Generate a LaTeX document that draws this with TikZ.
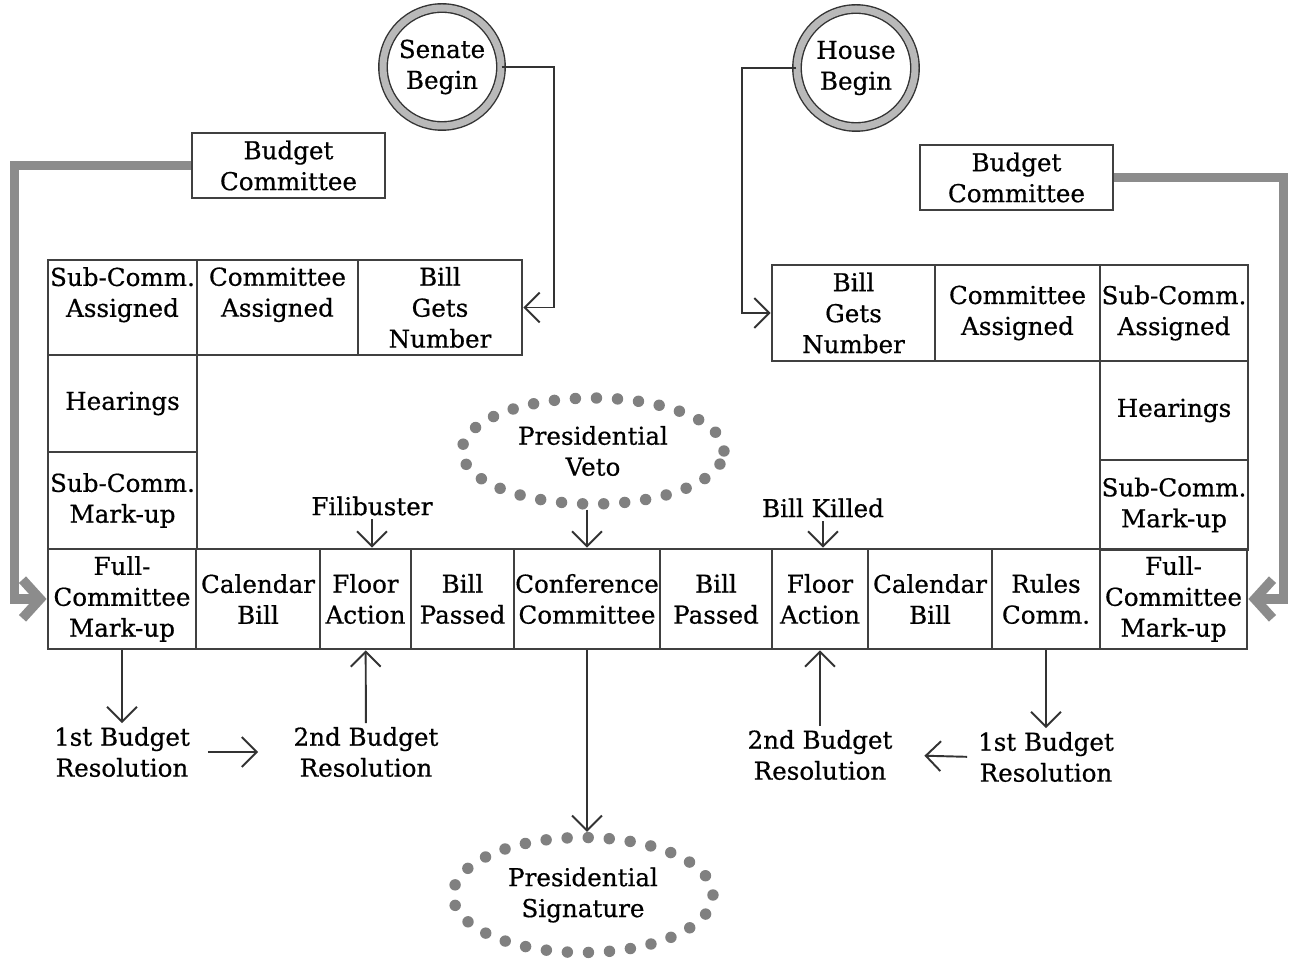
\documentclass[tikz,border=0pt]{standalone}
\usepackage{fontspec}
\setmainfont{DejaVu Serif}[FakeBold=0.6,AutoFakeBold=0.6]
\usetikzlibrary{arrows.meta,shapes.geometric,positioning}

\begin{document}
\begin{tikzpicture}[x=0.02cm,y=-0.02cm,
	font=\fontsize{14}{17.6}\selectfont\bfseries,
	box/.style={draw=black!75,line width=1.6pt,align=center,inner sep=0pt,minimum height=2cm},
	budgetbox/.style={box,minimum width=3.86cm,minimum height=1.3cm},
	startring/.style={circle,draw=black!80,line width=0.8pt,double=gray!55,double distance=4pt,minimum size=2.36cm,align=center,inner sep=0pt},
	dotring/.style={ellipse,draw=black!50,line width=6.5pt,line cap=round,dash pattern=on 0pt off 12pt,align=center,inner sep=0pt},
	lbl/.style={align=center,inner sep=2pt},
	arr/.style={draw=black!80,line width=1.1pt,-{Straight Barb[angle=90:12pt]}},
	budgetline/.style={draw=black!45,line width=5.5pt,-{Straight Barb[length=10pt,width=22pt]}}]
	\useasboundingbox (0,0) rectangle (1289,962);

	\node[startring] (sBegin) at (442,67) {Senate\\Begin};
	\node[startring] (hBegin) at (856,68) {House\\Begin};
	\node[budgetbox] (sBud) at (288.5,165.5) {Budget\\Committee};
	\node[budgetbox] (hBud) at (1016.5,177.5) {Budget\\Committee};

	\node[box,minimum width=2.98cm,minimum height=1.9cm] (sSubA) at (122.5,307.5) {Sub-Comm.\\Assigned\\\mbox{}};
	\node[box,minimum width=3.22cm,minimum height=1.9cm] (sComA) at (277.5,307.5) {Committee\\Assigned\\\mbox{}};
	\node[box,minimum width=3.28cm,minimum height=1.9cm] (sBill) at (440,307.5) {Bill\\Gets\\Number};
	\node[box,minimum width=2.98cm,minimum height=1.94cm] (sHear) at (122.5,403.5) {Hearings};
	\node[box,minimum width=2.98cm,minimum height=1.94cm] (sSubM) at (122.5,500.5) {Sub-Comm.\\Mark-up};

	\node[box,minimum width=3.26cm,minimum height=1.92cm] (hBill) at (853.5,313) {Bill\\Gets\\Number};
	\node[box,minimum width=3.3cm,minimum height=1.92cm] (hComA) at (1017.5,313) {Committee\\Assigned};
	\node[box,minimum width=2.96cm,minimum height=1.92cm] (hSubA) at (1174,313) {Sub-Comm.\\Assigned};
	\node[box,minimum width=2.96cm,minimum height=1.98cm] (hHear) at (1174,410.5) {Hearings};
	\node[box,minimum width=2.96cm,minimum height=1.8cm] (hSubM) at (1174,505) {Sub-Comm.\\Mark-up};

	\node[box,minimum width=2.96cm] (sFull) at (122,599) {Full-\\Committee\\Mark-up};
	\node[box,minimum width=2.48cm] (sCal) at (258,599) {Calendar\\Bill};
	\node[box,minimum width=1.82cm] (sFloor) at (365.5,599) {Floor\\Action};
	\node[box,minimum width=2.06cm] (sPass) at (462.5,599) {Bill\\Passed};
	\node[box,minimum width=2.92cm] (conf) at (587,599) {Conference\\Committee};
	\node[box,minimum width=2.24cm] (hPass) at (716,599) {Bill\\Passed};
	\node[box,minimum width=1.92cm] (hFloor) at (820,599) {Floor\\Action};
	\node[box,minimum width=2.48cm] (hCal) at (930,599) {Calendar\\Bill};
	\node[box,minimum width=2.16cm] (hRules) at (1046,599) {Rules\\Comm.};
	\node[box,minimum width=2.94cm] (hFull) at (1173.5,599) {Full-\\Committee\\Mark-up};

	\node[dotring,minimum width=5.24cm,minimum height=2.12cm] (veto) at (593,451) {Presidential\\Veto};
	\node[dotring,minimum width=5.2cm,minimum height=2.3cm] (sign) at (583,895) {Presidential\\Signature};
	\node[lbl] (fil) at (372,506) {Filibuster};
	\node[lbl] (kill) at (823,508) {Bill Killed};
	\node[lbl] (s1st) at (122,752) {1st Budget\\Resolution};
	\node[lbl] (s2nd) at (366,752) {2nd Budget\\Resolution};
	\node[lbl] (h2nd) at (820,755) {2nd Budget\\Resolution};
	\node[lbl] (h1st) at (1046,757) {1st Budget\\Resolution};

	\draw[arr] (sBegin.east) -- ++(52,0) |- (sBill.east);
	\draw[arr] (hBegin.west) -- ++(-54,0) |- (hBill.west);
	\draw[budgetline] (sBud.west) -- ++(-176,0) |- (sFull.west);
	\draw[budgetline] (hBud.east) -- ++(169,0) |- (hFull.east);

	\draw[arr] (fil.south) -- (fil.south |- sFloor.north);
	\draw[arr] (kill.south) -- (kill.south |- hFloor.north);
	\draw[arr] (conf.north |- veto.south) -- (conf.north);
	\draw[arr] (conf.south) -- (conf.south |- sign.north);

	\draw[arr] (sFull) -- (s1st);
	\draw[arr] (s2nd) -- (sFloor);
	\draw[arr,shorten <=8pt,shorten >=18pt] (s1st.east) -- (s2nd.west);
	\draw[arr] (hRules) -- (h1st);
	\draw[arr] (h2nd) -- (hFloor);
	\draw[arr,shorten <=4pt,shorten >=16pt] (h1st.west) -- (h2nd.east);
\end{tikzpicture}
\end{document}
